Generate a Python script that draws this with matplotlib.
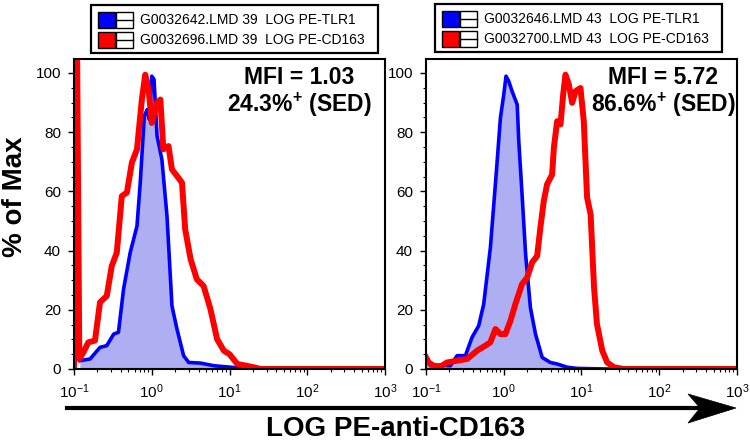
import numpy as np
import matplotlib
matplotlib.use('Agg')
import matplotlib.pyplot as plt
from matplotlib.patches import Rectangle, Polygon
from matplotlib.lines import Line2D
from matplotlib.ticker import LogLocator, MultipleLocator, NullFormatter

plt.rcParams['font.family'] = ['Liberation Sans', 'DejaVu Sans']
plt.rcParams['mathtext.fontset'] = 'custom'
plt.rcParams['mathtext.rm'] = 'Liberation Sans'
plt.rcParams['mathtext.it'] = 'Liberation Sans:italic'
plt.rcParams['mathtext.bf'] = 'Liberation Sans:bold'
plt.rcParams['mathtext.default'] = 'regular'

# ---- data (intensity, % of max) ----
# left panel: TLR1 control (blue) / CD163 (red)
tlr1_a_x = [0.119, 0.161, 0.216, 0.264, 0.324, 0.373, 0.434, 0.528, 0.646, 0.711,
            0.802, 0.871, 0.933, 1.0, 1.07, 1.17, 1.35, 1.57, 1.82, 2.11,
            2.57, 2.99, 4.22, 6.31, 11.5, 20.0, 1000]
tlr1_a_y = [2.8, 3.4, 7.3, 7.9, 11.8, 12.4, 27, 39.3, 48.3, 62.9,
            85.4, 87.6, 84.3, 98.9, 97.8, 78.7, 70.8, 51.7, 21.3, 13.5,
            4.5, 2.2, 2.0, 1.1, 0.5, 0, 0]
cd163_a_x = [0.100, 0.103, 0.106, 0.117, 0.132, 0.153, 0.186, 0.216, 0.264, 0.306,
             0.355, 0.412, 0.479, 0.555, 0.646, 0.746, 0.824, 0.912, 1.0, 1.17,
             1.29, 1.41, 1.64, 1.82, 2.11, 2.45, 2.69, 3.16, 3.80, 4.65,
             5.69, 6.92, 8.45, 10.0, 12.6, 20.4, 25.1, 1000]
cd163_a_y = [0, 160, 160, 3.4, 5.6, 9.0, 9.6, 22.5, 24.7, 34.8,
             39.3, 58.4, 59.6, 69.7, 74.2, 91, 99.4, 94.4, 83.1, 89.9,
             91, 74.2, 75.3, 67.4, 65.2, 62.9, 47.2, 37.1, 30.3, 28,
             20.2, 10.1, 6.2, 5.0, 1.7, 0.6, 0, 0]

# right panel
tlr1_b_x = [0.100, 0.114, 0.153, 0.206, 0.251, 0.321, 0.391, 0.476, 0.552, 0.673,
            0.805, 0.906, 1.0, 1.07, 1.16, 1.28, 1.49, 1.56, 1.72, 1.91,
            2.20, 2.56, 3.12, 3.98, 4.86, 6.53, 8.79, 21.4, 1000]
tlr1_b_y = [4.5, 1.1, 1.3, 1.1, 4.5, 4.5, 10.7, 14.6, 21.9, 41,
            66.9, 84.8, 92.7, 98.9, 97.2, 93.8, 89.3, 77, 59, 38.8,
            20.8, 11.8, 3.9, 2.2, 1.7, 0.6, 0.2, 0, 0]
cd163_b_x = [0.100, 0.108, 0.126, 0.153, 0.186, 0.251, 0.339, 0.454, 0.581, 0.673,
             0.782, 0.906, 1.05, 1.22, 1.41, 1.72, 2.0, 2.32, 2.69, 2.96,
             3.27, 3.61, 4.19, 4.41, 4.86, 5.37, 5.81, 6.22, 6.87, 7.59,
             8.38, 9.70, 10.7, 11.8, 13.1, 14.5, 15.8, 18.5, 21.4, 26.1,
             35.1, 1000]
cd163_b_y = [3.9, 2.2, 1.1, 0.8, 2.2, 2.8, 3.4, 6.2, 7.9, 9.0,
             13.5, 11.8, 11.8, 16.3, 21.9, 28.7, 30.9, 36, 38.2, 47.8,
             56.7, 62.4, 65.7, 74.7, 83.7, 82.6, 92.7, 99.4, 96.1, 89.9,
             93.8, 94.9, 83.7, 57.9, 52.2, 27.5, 15.2, 6.2, 2.2, 0.6,
             0, 0]

legend_a = ['G0032642.LMD 39  LOG PE-TLR1', 'G0032696.LMD 39  LOG PE-CD163']
legend_b = ['G0032646.LMD 43  LOG PE-TLR1', 'G0032700.LMD 43  LOG PE-CD163']
mfi_a = ['MFI = 1.03', r'24.3%$^\mathbf{+}$ (SED)']
mfi_b = ['MFI = 5.72', r'86.6%$^\mathbf{+}$ (SED)']

W, H = 750, 443
fig = plt.figure(figsize=(W / 100, H / 100), dpi=100)


def fx(x):
    return x / W


def fy(y):
    return 1 - y / H


def panel(x0, x1, bx, by, rx, ry, texts, tcx):
    ax = fig.add_axes([fx(x0), fy(369), (x1 - x0) / W, (369 - 59) / H])
    ax.fill_between(bx, by, 0, color='#aeaef2', lw=0, zorder=1)
    ax.plot(bx, by, color='#0000ff', lw=2.6, zorder=2)
    ax.plot(rx, ry, color='#ff0000', lw=4.3, zorder=3, solid_joinstyle='round')
    ax.set_xscale('log')
    ax.set_xlim(0.1, 1000)
    ax.set_ylim(0, 104.7)
    ax.set_yticks([0, 20, 40, 60, 80, 100])
    ax.yaxis.set_minor_locator(MultipleLocator(5))
    ax.xaxis.set_major_locator(LogLocator(base=10))
    ax.xaxis.set_minor_locator(LogLocator(base=10, subs=np.arange(2, 10)))
    ax.xaxis.set_minor_formatter(NullFormatter())
    ax.tick_params(which='major', direction='out', length=4.3, width=1, labelsize=11, pad=5)
    ax.tick_params(which='minor', direction='out', length=2.2, width=0.8)
    for s in ax.spines.values():
        s.set_linewidth(1.5)
        s.set_zorder(4)
    fig.text(fx(tcx), fy(84.5), texts[0], ha='center', va='baseline',
             fontsize=16.5, fontweight='bold')
    fig.text(fx(tcx), fy(112), texts[1], ha='center', va='baseline',
             fontsize=16.5, fontweight='bold')
    return ax


def rect(x0, y0, x1, y1, **kw):
    fig.add_artist(Rectangle((fx(x0), fy(y1)), (x1 - x0) / W, (y1 - y0) / H,
                             transform=fig.transFigure, **kw))


def legend_box(dx, dy, labels):
    rect(91 + dx, 5 + dy, 378 + dx, 53 + dy, fc='white', ec='black', lw=1.6)
    for i, (lab, col) in enumerate(zip(labels, ['#0000ff', '#ff0000'])):
        top = 12 + dy + 20 * i
        rect(97.5 + dx, top, 115 + dx, top + 16, fc=col, ec='black', lw=1)
        rect(116 + dx, top, 133 + dx, top + 16, fc='white', ec='black', lw=1)
        fig.add_artist(Line2D([fx(116 + dx), fx(133 + dx)], [fy(top + 8)] * 2,
                              transform=fig.transFigure, color='black', lw=1))
        fig.text(fx(140 + dx), fy(top + 8), lab, ha='left', va='center', fontsize=10)


panel(74, 385, tlr1_a_x, tlr1_a_y, cd163_a_x, cd163_a_y, mfi_a, 299)
panel(426, 737, tlr1_b_x, tlr1_b_y, cd163_b_x, cd163_b_y, mfi_b, 663)
legend_box(0, 0, legend_a)
legend_box(344, -1, legend_b)

fig.text(fx(15), fy(197), '% of Max', rotation=90, ha='center', va='center',
         fontsize=20, fontweight='bold')

# long arrow under the x axes
fig.add_artist(Line2D([fx(67), fx(705)], [fy(408)] * 2, transform=fig.transFigure,
                      color='black', lw=3))
fig.add_artist(Polygon([(fx(736), fy(408)), (fx(688), fy(394)), (fx(700), fy(408)),
                        (fx(688), fy(423))], closed=True, transform=fig.transFigure,
                       fc='black', ec='black', lw=0.5))
fig.text(fx(396), fy(436), 'LOG PE-anti-CD163', ha='center', va='baseline',
         fontsize=20, fontweight='bold')

fig.savefig('out.png', dpi=100)
